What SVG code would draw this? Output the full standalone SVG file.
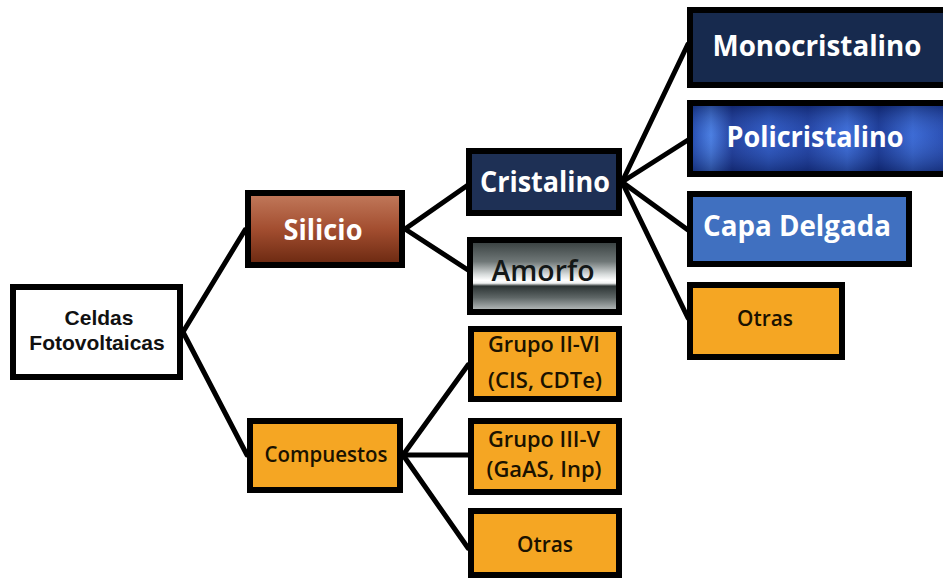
<svg xmlns="http://www.w3.org/2000/svg" width="943" height="580" viewBox="0 0 943 580">
<style>
.box{stroke:#000;stroke-width:6}
.lbl{font-family:"Open Sans","Noto Sans",sans-serif;text-anchor:middle}
.w{fill:#fff;font-weight:bold;font-size:29px}
.o{fill:#1a1200;font-weight:600;font-size:21px}
.conn line{stroke:#000;stroke-width:5;stroke-linecap:round}
</style>
<defs>
<linearGradient id="gSil" x1="0" y1="0" x2="0" y2="1">
<stop offset="0" stop-color="#c27a5c"/>
<stop offset="0.5" stop-color="#a34e30"/>
<stop offset="1" stop-color="#6a2810"/>
</linearGradient>
<linearGradient id="gAmo" x1="0" y1="0" x2="0" y2="1">
<stop offset="0" stop-color="#343c3c"/>
<stop offset="0.3" stop-color="#6f7777"/>
<stop offset="0.48" stop-color="#d8dcdc"/>
<stop offset="0.56" stop-color="#ffffff"/>
<stop offset="0.6" stop-color="#f0f2f2"/>
<stop offset="0.64" stop-color="#2c3434"/>
<stop offset="0.8" stop-color="#5e6666"/>
<stop offset="1" stop-color="#c4c8c8"/>
</linearGradient>
<linearGradient id="gPol" x1="0" y1="0" x2="1" y2="0">
<stop offset="0" stop-color="#1a3ea0"/>
<stop offset="0.08" stop-color="#4a7ee0"/>
<stop offset="0.16" stop-color="#1b3590"/>
<stop offset="0.3" stop-color="#2c56c0"/>
<stop offset="0.45" stop-color="#1c3a9a"/>
<stop offset="0.6" stop-color="#3c6cd8"/>
<stop offset="0.72" stop-color="#14308a"/>
<stop offset="0.85" stop-color="#3866d0"/>
<stop offset="1" stop-color="#1e3ea0"/>
</linearGradient>
<linearGradient id="gPolV" x1="0" y1="0" x2="0" y2="1">
<stop offset="0" stop-color="#0a1a50" stop-opacity="0.5"/>
<stop offset="0.45" stop-color="#5a8af0" stop-opacity="0.15"/>
<stop offset="1" stop-color="#0a1a50" stop-opacity="0.5"/>
</linearGradient>
</defs>

<g class="conn" id="connectors">
<line x1="183" y1="332" x2="245" y2="230"/>
<line x1="183" y1="332" x2="247" y2="455"/>
<line x1="405" y1="229" x2="468" y2="185"/>
<line x1="405" y1="229" x2="468" y2="270"/>
<line x1="622" y1="182" x2="688" y2="44"/>
<line x1="622" y1="182" x2="688" y2="140"/>
<line x1="622" y1="182" x2="688" y2="230"/>
<line x1="622" y1="182" x2="688" y2="318"/>
<line x1="403" y1="455" x2="468" y2="365"/>
<line x1="403" y1="455" x2="468" y2="455"/>
<line x1="403" y1="455" x2="468" y2="548"/>
</g>

<g id="celdas">
<rect class="box" x="13" y="287" width="167" height="90" fill="#fff"/>
<text x="99" y="325" font-family="Liberation Sans, Arial, sans-serif" font-weight="bold" font-size="21" text-anchor="middle" fill="#111">Celdas</text>
<text x="97" y="350" font-family="Liberation Sans, Arial, sans-serif" font-weight="bold" font-size="21" text-anchor="middle" fill="#111">Fotovoltaicas</text>
</g>

<g id="silicio">
<rect class="box" x="248" y="193" width="154" height="72" fill="url(#gSil)"/>
<text class="lbl w" x="323" y="240" textLength="79" lengthAdjust="spacingAndGlyphs">Silicio</text>
</g>

<g id="compuestos">
<rect class="box" x="250" y="421" width="150" height="69" fill="#f5a623"/>
<text class="lbl o" x="326" y="462" textLength="123" lengthAdjust="spacingAndGlyphs">Compuestos</text>
</g>

<g id="cristalino">
<rect class="box" x="469" y="151" width="150" height="62" fill="#1e3055"/>
<text class="lbl w" x="545" y="192" textLength="130" lengthAdjust="spacingAndGlyphs">Cristalino</text>
</g>

<g id="amorfo">
<rect class="box" x="470" y="240" width="149" height="72" fill="url(#gAmo)"/>
<text class="lbl" x="543" y="281" font-size="28" font-weight="600" fill="#141818" textLength="103" lengthAdjust="spacingAndGlyphs">Amorfo</text>
</g>

<g id="grupo2-6">
<rect class="box" x="471" y="329" width="148" height="70" fill="#f5a623"/>
<text class="lbl o" x="544" y="352" font-size="20" textLength="112" lengthAdjust="spacingAndGlyphs">Grupo II-VI</text>
<text class="lbl o" x="545" y="388" font-size="20" textLength="114" lengthAdjust="spacingAndGlyphs">(CIS, CDTe)</text>
</g>

<g id="grupo3-5">
<rect class="box" x="471" y="421" width="148" height="71" fill="#f5a623"/>
<text class="lbl o" x="544" y="447" font-size="20" textLength="112" lengthAdjust="spacingAndGlyphs">Grupo III-V</text>
<text class="lbl o" x="544" y="477" font-size="20" textLength="115" lengthAdjust="spacingAndGlyphs">(GaAS, Inp)</text>
</g>

<g id="otras-compuestos">
<rect class="box" x="471" y="511" width="148" height="64" fill="#f5a623"/>
<text class="lbl o" x="545" y="552" textLength="56" lengthAdjust="spacingAndGlyphs">Otras</text>
</g>

<g id="monocristalino">
<rect class="box" x="690" y="10" width="262" height="75" fill="#172a4e"/>
<text class="lbl w" x="817" y="56" textLength="209" lengthAdjust="spacingAndGlyphs">Monocristalino</text>
</g>

<g id="policristalino">
<rect class="box" x="690" y="103" width="262" height="71" fill="url(#gPol)"/>
<rect x="693" y="106" width="256" height="65" fill="url(#gPolV)"/>
<text class="lbl w" x="815" y="147" textLength="177" lengthAdjust="spacingAndGlyphs">Policristalino</text>
</g>

<g id="capa-delgada">
<rect class="box" x="690" y="194" width="219" height="70" fill="#4070c0"/>
<text class="lbl w" x="797" y="236" textLength="188" lengthAdjust="spacingAndGlyphs">Capa Delgada</text>
</g>

<g id="otras-cristalino">
<rect class="box" x="690" y="285" width="152" height="72" fill="#f5a623"/>
<text class="lbl o" x="765" y="326" textLength="56" lengthAdjust="spacingAndGlyphs">Otras</text>
</g>
</svg>
